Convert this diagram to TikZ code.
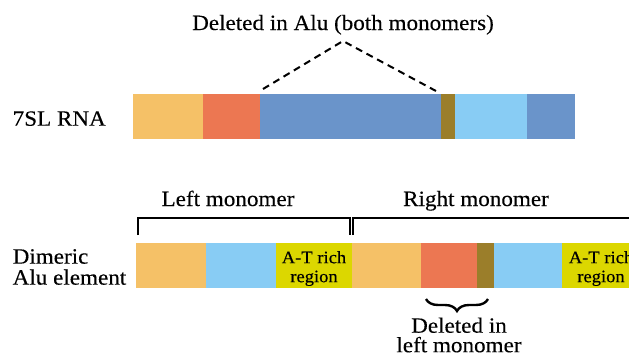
\documentclass[tikz,border=0pt]{standalone}
\usepackage{fontspec}
\setmainfont[FakeStretch=1.06, FakeBold=0.25]{Liberation Serif}
\usepackage{tikz}
\usetikzlibrary{positioning, decorations.pathreplacing}
\definecolor{aluorange}{HTML}{F5C167}
\definecolor{alured}{HTML}{EC7752}
\definecolor{alublue}{HTML}{6A94CA}
\definecolor{alubrown}{HTML}{9B7E2A}
\definecolor{alusky}{HTML}{88CCF4}
\definecolor{aluyellow}{HTML}{DCD700}

\begin{document}
\begin{tikzpicture}[x=1pt, y=-1pt, inner sep=0pt, outer sep=0pt,
                    font=\fontsize{21.8}{21}\selectfont,
                    seg/.style={minimum height=45pt, minimum width=#1, anchor=west},
                    atrich/.style={align=center, font=\fontsize{17.5}{19}\selectfont},
                    dashline/.style={dash pattern=on 7pt off 5pt, line width=2pt},
                    bracket/.style={line width=2pt},
                    curly/.style={decorate, decoration={brace, amplitude=12pt}, line width=2.4pt}]
    \useasboundingbox (0,0) rectangle (629,354);
    \clip (0,0) rectangle (629,354);

    % 7SL RNA
    \node[anchor=base west] (rnalabel) at (12.7,125.7) {7SL RNA};
    \node[seg=70pt, fill=aluorange] (r1) at (133,116.5) {};
    \node[seg=57pt, fill=alured, right=0pt of r1] (r2) {};
    \node[seg=181pt, fill=alublue, right=0pt of r2] (r3) {};
    \node[seg=14pt, fill=alubrown, right=0pt of r3] (r4) {};
    \node[seg=72pt, fill=alusky, right=0pt of r4] (r5) {};
    \node[seg=48pt, fill=alublue, right=0pt of r5] (r6) {};

    \node[anchor=base] (delalu) at (343,30) {Deleted in Alu (both monomers)};
    \coordinate (apex) at (343,41);
    \coordinate (dl) at (263,89);
    \coordinate (dr) at (436,91);
    \draw[dashline] (dl) -- (apex) -- (dr);

    % dimeric Alu
    \node[align=left, anchor=west] (alulabel) at (12.7,267) {Dimeric\\Alu element};
    \node[seg=70pt, fill=aluorange] (a1) at (136,265.5) {};
    \node[seg=70pt, fill=alusky, right=0pt of a1] (a2) {};
    \node[seg=76pt, fill=aluyellow, right=0pt of a2] (a3) {};
    \node[seg=69pt, fill=aluorange, right=0pt of a3] (a4) {};
    \node[seg=56pt, fill=alured, right=0pt of a4] (a5) {};
    \node[seg=17pt, fill=alubrown, right=0pt of a5] (a6) {};
    \node[seg=68pt, fill=alusky, right=0pt of a6] (a7) {};
    \node[seg=78pt, fill=aluyellow, right=0pt of a7] (a8) {};
    \node[atrich] (a3text) at (314,268.5) {A-T rich\\region};
    \node[atrich] (a8text) at (601,268.5) {A-T rich\\region};

    \draw[bracket] (137.5,235) |- (349.5,218) -- (349.5,235);
    \draw[bracket] (353,235) |- (640,218);
    \node[anchor=base] (leftmono) at (228,206) {Left monomer};
    \node[anchor=base] (rightmono) at (476,206) {Right monomer};

    \coordinate (bra) at (488,299);
    \coordinate (brb) at (426,299);
    \draw[curly] (bra) -- (brb);
    \node[align=center, font=\fontsize{21.8}{19.5}\selectfont] (delleft) at (459,335) {Deleted in\\left monomer};
\end{tikzpicture}
\end{document}
